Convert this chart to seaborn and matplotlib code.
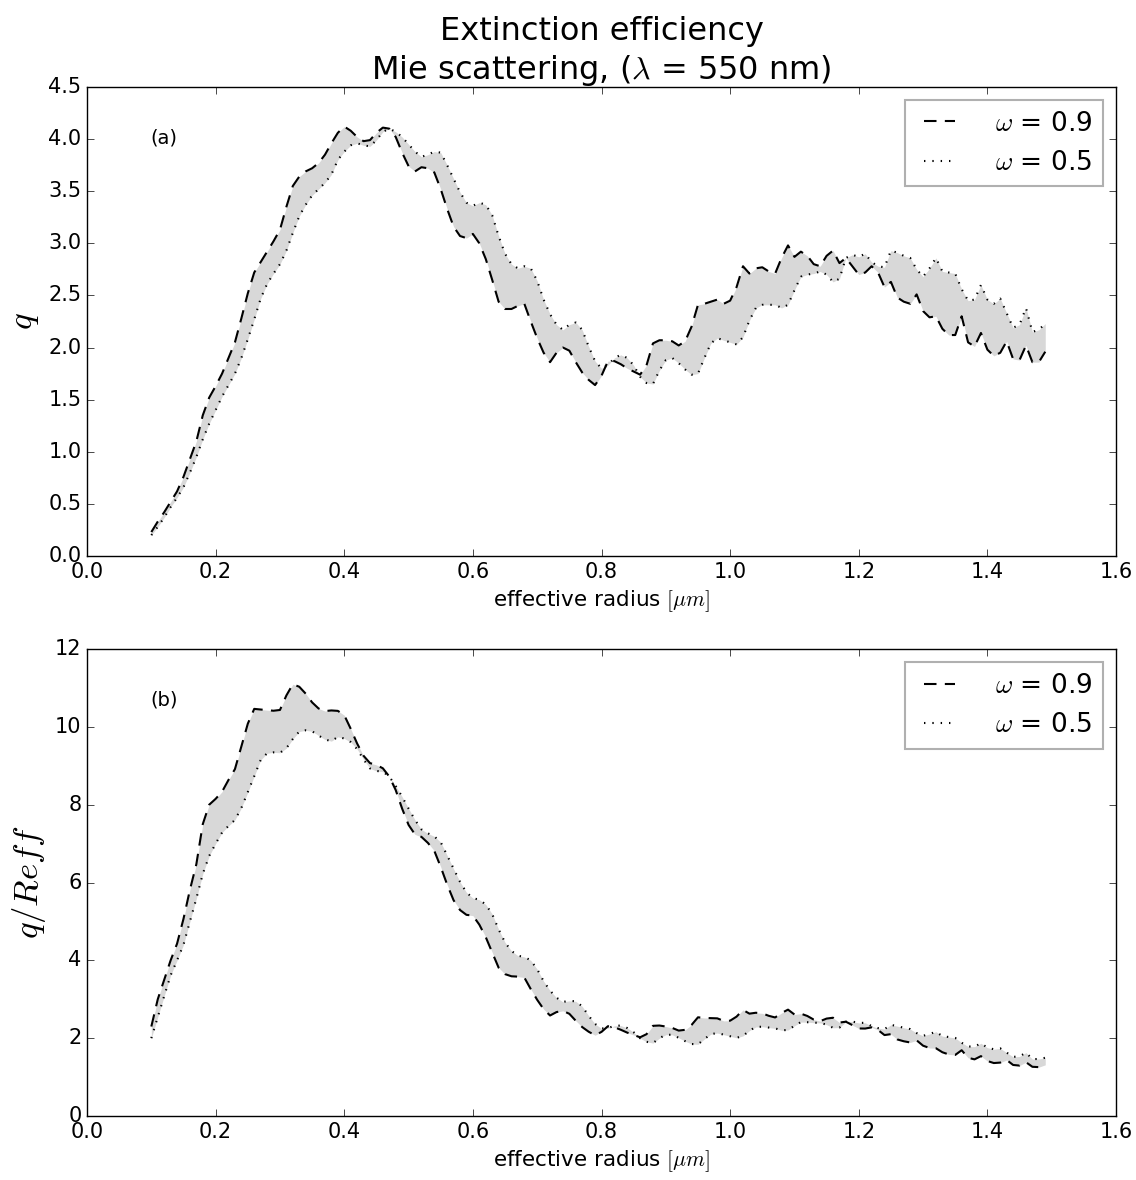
import numpy as np
import pandas as pd
import matplotlib
matplotlib.use("Agg")
import matplotlib.pyplot as plt
import seaborn as sns

# effective radius [um]
reff = [round(0.10 + 0.01 * i, 2) for i in range(140)]

# extinction efficiency, omega = 0.9 (dashed)
q_w09 = [
    0.23, 0.33, 0.42, 0.52, 0.62, 0.76, 0.93, 1.10, 1.35, 1.52,
    1.63, 1.75, 1.90, 2.05, 2.28, 2.52, 2.72, 2.82, 2.92, 3.02,
    3.13, 3.35, 3.55, 3.64, 3.69, 3.72, 3.77, 3.85, 3.96, 4.06,
    4.12, 4.08, 4.02, 3.98, 3.99, 4.06, 4.11, 4.10, 4.02, 3.87,
    3.74, 3.69, 3.73, 3.72, 3.68, 3.52, 3.33, 3.16, 3.07, 3.05,
    3.09, 3.00, 2.85, 2.65, 2.44, 2.37, 2.37, 2.40, 2.42, 2.25,
    2.09, 1.95, 1.86, 1.95, 2.00, 1.97, 1.86, 1.76, 1.69, 1.64,
    1.73, 1.87, 1.87, 1.84, 1.80, 1.77, 1.74, 1.83, 2.04, 2.07,
    2.07, 2.06, 2.02, 2.06, 2.20, 2.41, 2.42, 2.44, 2.46, 2.42,
    2.45, 2.58, 2.78, 2.71, 2.76, 2.77, 2.73, 2.71, 2.86, 2.98,
    2.87, 2.92, 2.88, 2.80, 2.78, 2.88, 2.93, 2.81, 2.86, 2.78,
    2.70, 2.72, 2.78, 2.72, 2.58, 2.63, 2.48, 2.44, 2.42, 2.51,
    2.35, 2.29, 2.30, 2.18, 2.12, 2.12, 2.30, 2.05, 2.01, 2.14,
    1.98, 1.92, 1.95, 2.06, 1.89, 1.88, 2.02, 1.86, 1.86, 1.96,
]

# extinction efficiency, omega = 0.5 (dotted)
q_w05 = [
    0.20, 0.28, 0.37, 0.47, 0.56, 0.66, 0.80, 0.95, 1.12, 1.27,
    1.40, 1.53, 1.64, 1.75, 1.90, 2.08, 2.27, 2.47, 2.61, 2.71,
    2.80, 2.93, 3.10, 3.26, 3.37, 3.46, 3.52, 3.58, 3.66, 3.80,
    3.88, 3.94, 3.96, 3.94, 3.93, 3.99, 4.07, 4.10, 4.07, 4.02,
    3.95, 3.88, 3.83, 3.85, 3.88, 3.87, 3.75, 3.62, 3.49, 3.39,
    3.36, 3.39, 3.37, 3.27, 3.07, 2.90, 2.80, 2.76, 2.78, 2.76,
    2.64, 2.46, 2.32, 2.22, 2.17, 2.22, 2.24, 2.17, 2.01, 1.87,
    1.80, 1.83, 1.90, 1.93, 1.90, 1.83, 1.72, 1.66, 1.65, 1.78,
    1.88, 1.90, 1.85, 1.79, 1.74, 1.75, 1.90, 2.04, 2.09, 2.07,
    2.05, 2.03, 2.10, 2.26, 2.38, 2.41, 2.41, 2.41, 2.38, 2.41,
    2.55, 2.68, 2.70, 2.71, 2.73, 2.70, 2.63, 2.66, 2.86, 2.89,
    2.87, 2.90, 2.82, 2.78, 2.77, 2.93, 2.91, 2.88, 2.86, 2.75,
    2.68, 2.76, 2.86, 2.73, 2.72, 2.71, 2.56, 2.45, 2.46, 2.60,
    2.46, 2.42, 2.47, 2.33, 2.19, 2.22, 2.38, 2.15, 2.17, 2.23,
]

labels = [r"$\omega$ = 0.9", r"$\omega$ = 0.5"]
xticks = [0.0, 0.2, 0.4, 0.6, 0.8, 1.0, 1.2, 1.4, 1.6]
yticks_a = [0.0, 0.5, 1.0, 1.5, 2.0, 2.5, 3.0, 3.5, 4.0, 4.5]
yticks_b = [0, 2, 4, 6, 8, 10, 12]

df = pd.DataFrame({"reff": reff, "q09": q_w09, "q05": q_w05})
df["r09"] = df["q09"] / df["reff"]
df["r05"] = df["q05"] / df["reff"]

plt.style.use("classic")
plt.rcParams["figure.facecolor"] = "white"
plt.rcParams["savefig.facecolor"] = "white"
plt.rcParams["font.family"] = ["DejaVu Sans"]
plt.rcParams["mathtext.fontset"] = "cm"

fig = plt.figure(figsize=(11.36, 11.8), dpi=100)
ax1 = fig.add_axes([0.0766, 0.5288, 0.9058, 0.3975])
ax2 = fig.add_axes([0.0766, 0.0542, 0.9058, 0.3958])

fill_col = "#d8d8d8"
dash = (0, (9, 6))
dot = (0, (1, 5))

panels = [
    (ax1, "q09", "q05", yticks_a, (0, 4.5), r"$q$", "(a)"),
    (ax2, "r09", "r05", yticks_b, (0, 12), r"$q/Reff$", "(b)"),
]
for ax, c9, c5, yt, ylim, ylab, tag in panels:
    ax.fill_between(df["reff"], df[c9], df[c5], color=fill_col, linewidth=0, zorder=1)
    sns.lineplot(data=df, x="reff", y=c9, ax=ax, color="k", linestyle=dash,
                 linewidth=1.5, label=labels[0], zorder=3)
    sns.lineplot(data=df, x="reff", y=c5, ax=ax, color="k", linestyle=dot,
                 linewidth=1.5, label=labels[1], zorder=3)
    ax.set_xlim(0, 1.6)
    ax.set_ylim(*ylim)
    ax.set_xticks(xticks)
    ax.set_xticklabels([f"{v:.1f}" for v in xticks])
    ax.set_yticks(yt)
    if ax is ax1:
        ax.set_yticklabels([f"{v:.1f}" for v in yt])
    else:
        ax.set_yticklabels([f"{v:d}" for v in yt])
    ax.tick_params(labelsize=15, direction="in", top=True, right=True, length=5)
    ax.set_xlabel(r"effective radius $[\mu m]$", fontsize=15.5)
    ax.set_ylabel(ylab, fontsize=25)
    ax.text(0.062, 0.88, tag, transform=ax.transAxes, fontsize=14)
    leg = ax.legend(loc="upper right", fontsize=19, handlelength=1.8,
                    handletextpad=1.2, frameon=True, fancybox=False)
    leg.get_frame().set_edgecolor("#b0b0b0")
    leg.get_frame().set_linewidth(1.5)

ax1.set_title("Extinction efficiency\nMie scattering, ($\\lambda$ = 550 nm)",
              fontsize=23, pad=6)

fig.savefig("out.png", dpi=100)
